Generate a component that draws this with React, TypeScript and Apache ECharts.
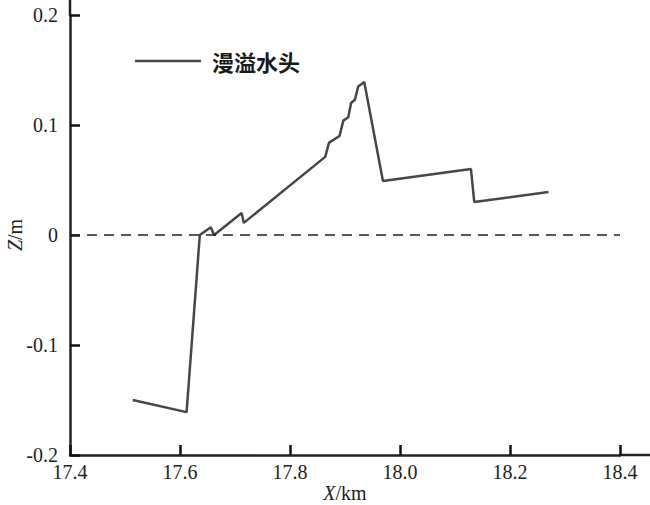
import React, { useEffect, useRef } from "react";
import * as echarts from "echarts";

const xValues = [17.514, 17.612, 17.636, 17.656, 17.662, 17.712, 17.716, 17.864, 17.871, 17.89, 17.897, 17.906, 17.911, 17.918, 17.924, 17.932, 17.935, 17.969, 18.129, 18.135, 18.27];
const zValues = [-0.15, -0.161, 0.0, 0.007, 0.0, 0.02, 0.011, 0.071, 0.084, 0.09, 0.104, 0.107, 0.12, 0.123, 0.135, 0.138, 0.139, 0.049, 0.06, 0.03, 0.039];
const seriesName = "漫溢水头";
const xTicks = { min: 17.4, max: 18.4, interval: 0.2 };
const yTicks = { min: -0.2, max: 0.2, interval: 0.1 };

export default function App() {
  const ref = useRef<HTMLDivElement>(null);
  useEffect(() => {
    if (!ref.current) return;
    const chart = echarts.init(ref.current, undefined, { renderer: "svg" });
    const axisColor = "#222";
    const serif = "Liberation Serif";
    const tick = { show: true, inside: true, length: 10, lineStyle: { color: "#111", width: 2.5, opacity: 1 } };
    chart.setOption({
      animation: false,
      backgroundColor: "#fff",
      grid: { left: 70, right: 30, top: 15, bottom: 50, containLabel: false, outerBoundsMode: "none" },
      legend: {
        left: 130,
        top: 45,
        itemWidth: 66,
        itemHeight: 14,
        data: [{ name: seriesName, icon: "path://M0,6 L66,6 L66,8.5 L0,8.5 Z" }],
        textStyle: { fontFamily: "Noto Sans CJK SC", fontSize: 22, color: "#1a1a1a", fontWeight: "bold", padding: [0, 0, 0, 6] },
      },
      xAxis: {
        type: "value",
        min: xTicks.min,
        max: xTicks.max,
        interval: xTicks.interval,
        name: "{i|X}/km",
        nameLocation: "middle",
        nameGap: 28,
        nameMoveOverlap: false,
        nameTextStyle: {
          fontFamily: serif,
          fontSize: 20,
          color: axisColor,
          rich: { i: { fontFamily: serif, fontSize: 20, fontStyle: "italic", color: axisColor } },
        },
        axisLine: { show: true, onZero: false, lineStyle: { color: axisColor, width: 2.5 } },
        axisTick: tick,
        axisLabel: {
          fontFamily: serif,
          fontSize: 20,
          color: axisColor,
          margin: 7,
          formatter: (v: number) => v.toFixed(1),
        },
        splitLine: { show: false },
      },
      yAxis: {
        type: "value",
        min: yTicks.min,
        max: yTicks.max,
        interval: yTicks.interval,
        name: "{i|Z}/m",
        nameLocation: "middle",
        nameGap: 45,
        nameMoveOverlap: false,
        nameRotate: 90,
        nameTextStyle: {
          fontFamily: serif,
          fontSize: 20,
          color: axisColor,
          rich: { i: { fontFamily: serif, fontSize: 20, fontStyle: "italic", color: axisColor } },
        },
        axisLine: { show: true, onZero: false, lineStyle: { color: axisColor, width: 2.5 } },
        axisTick: tick,
        axisLabel: {
          fontFamily: serif,
          fontSize: 20,
          color: axisColor,
          margin: 12,
          formatter: (v: number) => (Math.abs(v) < 1e-9 ? "0" : v.toFixed(1)),
        },
        splitLine: { show: false },
      },
      graphic: [
        { type: "line", shape: { x1: 70, y1: 0, x2: 70, y2: 16 }, style: { stroke: axisColor, lineWidth: 2.5 } },
        { type: "line", shape: { x1: 619, y1: 455, x2: 650, y2: 455 }, style: { stroke: axisColor, lineWidth: 2.5 } },
      ],
      series: [
        {
          name: seriesName,
          type: "line",
          data: xValues.map((x, i) => [x, zValues[i]]),
          symbol: "none",
          lineStyle: { color: "#4a4546", width: 2.5 },
          itemStyle: { color: "#4a4546" },
          markLine: {
            silent: true,
            symbol: "none",
            label: { show: false },
            lineStyle: { color: "#222", width: 1.5, type: [10, 7] },
            data: [{ yAxis: 0 }],
          },
          z: 3,
        },
      ],
    });
    return () => chart.dispose();
  }, []);
  return <div ref={ref} style={{ width: 650, height: 505, position: "absolute", left: 0, top: 0 }} />;
}
